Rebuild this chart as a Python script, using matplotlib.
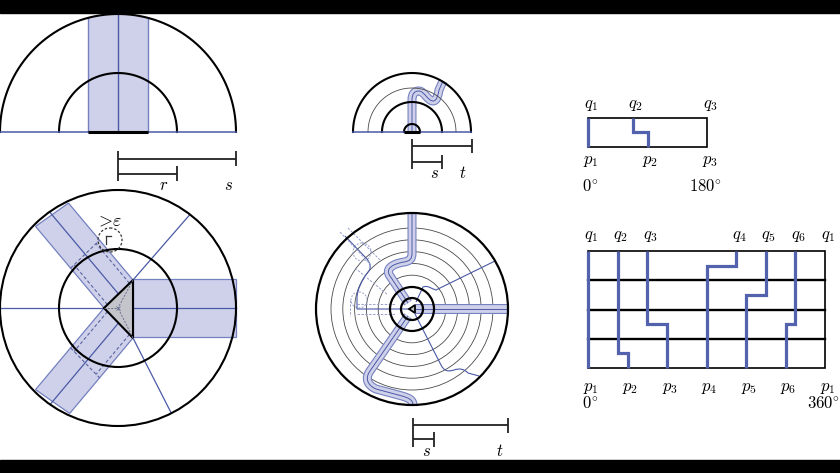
import numpy as np
import matplotlib
matplotlib.use("Agg")
import matplotlib.pyplot as plt
from matplotlib.patches import Polygon, PathPatch, Circle
from matplotlib.path import Path

plt.rcParams['mathtext.fontset'] = 'cm'
plt.rcParams['font.family'] = ['DejaVu Serif']

# ---------------- data (diagram values) ----------------
# panel A: half disc
half_disc_radii = [59, 118]
half_band_halfwidth = 30
# panel B: full disc with triangle and three strips
disc_radii = [59, 118]
tri_vertices = [(-14, 0), (15, -28), (15, 30)]      # relative to disc centre
strip_angles = [130, 230]                            # diagonal strips (deg)
spoke_angles = [49, -63]                             # thin spokes from triangle corners
eps_circle = (-8, -68, 12)
# panel C: small half disc
small_half_radii_thick = [8, 30, 59]
small_half_radii_thin = [44]
# panel D: ringed disc
ring_thick = [11, 22, 96]
ring_thin = [33.8, 45.6, 57.4, 69.2, 81.0]
# panels E/F: unrolled diagrams (degrees)
half_q_deg = [0, 67.5, 180]
half_p_deg = [0, 90, 180]
half_step = [None, 0.5, None]
full_q_deg = [0, 45, 90, 225, 270, 315, 360]
full_p_deg = [0, 60, 120, 180, 240, 300, 360]
full_step = [None, 3.5, 2.5, 0.5, 1.5, 2.5]
full_rows = 4

# ---------------- styles ----------------
PX = 0.72
BLUE = '#5262ad'
THIN = '#4a5aa6'
FILL = '#cfd1ea'
EDGE = '#7480bf'
GRAY = '#4a4a4a'

fig = plt.figure(figsize=(8.4, 4.73), dpi=100)
ax = fig.add_axes([0, 0, 1, 1])
ax.set_xlim(0, 840)
ax.set_ylim(473, 0)
ax.axis('off')

def arc(c, r, a0, a1, **kw):
    t = np.radians(np.linspace(a0, a1, 300))
    ax.plot(c[0] + r * np.cos(t), c[1] - r * np.sin(t), **kw)

def ray_circle(p, d, c, R):
    f = np.array(p) - np.array(c)
    b = f @ d
    return -b + np.sqrt(b * b - (f @ f - R * R))

def seg(p, q, **kw):
    ax.plot([p[0], q[0]], [p[1], q[1]], **kw)

def scale_bar(x0, y_long, x_long, y_short, x_short, tick):
    kw = dict(color='#222222', lw=1.3, solid_capstyle='butt')
    seg((x0, y_long), (x_long, y_long), **kw)
    seg((x0, y_short), (x_short, y_short), **kw)
    seg((x0, y_long - tick), (x0, y_short + tick), **kw)
    seg((x_long, y_long - tick), (x_long, y_long + tick), **kw)
    seg((x_short, y_short - tick), (x_short, y_short + tick), **kw)

def label(x, y, s, size=12, ha='center'):
    ax.text(x, y, s, fontsize=size, ha=ha, va='center')

def stroke_band(verts, codes, width=9):
    path = Path(verts, codes)
    ax.add_patch(PathPatch(path, fill=False, ec=EDGE, lw=width * PX, capstyle='butt', joinstyle='round'))
    ax.add_patch(PathPatch(path, fill=False, ec=FILL, lw=(width - 2.2) * PX, capstyle='butt', joinstyle='round'))
    ax.add_patch(PathPatch(path, fill=False, ec=THIN, lw=0.7, capstyle='butt', joinstyle='round'))

# black bars top and bottom
ax.add_patch(plt.Rectangle((0, 0), 840, 13, color='black', zorder=10))
ax.add_patch(plt.Rectangle((0, 460), 840, 13, color='black', zorder=10))

# ================= panel A =================
cA = (118, 132)
R = half_disc_radii[1]
w = half_band_halfwidth
ang = np.degrees(np.arccos(w / R))
t = np.radians(np.linspace(ang, 180 - ang, 100))
band = [(cA[0] + w, cA[1])] + list(zip(cA[0] + R * np.cos(t), cA[1] - R * np.sin(t))) + [(cA[0] - w, cA[1])]
ax.add_patch(Polygon(band, closed=True, fc=FILL, ec='none'))
for sx in (-w, w):
    h = np.sqrt(R * R - w * w)
    seg((cA[0] + sx, cA[1]), (cA[0] + sx, cA[1] - h), color=EDGE, lw=1.0)
seg((cA[0], cA[1]), (cA[0], cA[1] - R), color=THIN, lw=1.0)
for r in half_disc_radii:
    arc(cA, r, 0, 180, color='black', lw=1.5)
seg((cA[0] - R, cA[1]), (cA[0] + R, cA[1]), color=THIN, lw=1.1)
seg((cA[0] - w, cA[1]), (cA[0] + w, cA[1]), color='black', lw=2.2, solid_capstyle='butt')
scale_bar(118, 159, 236, 174, 177, 7.5)
label(164, 185, r'$r$')
label(229, 185, r'$s$')

# ================= panel B =================
cB = (118, 308)
RB = disc_radii[1]
V = [(cB[0] + dx, cB[1] + dy) for dx, dy in tri_vertices]
P1, P2, P3 = V
ax.add_patch(Polygon([(P2[0], P2[1] - 1), (236, P2[1] - 1), (236, P3[1] - 1), (P3[0], P3[1] - 1)],
                     closed=True, fc=FILL, ec=EDGE, lw=0.9))
for a, Q in zip(strip_angles, (P2, P3)):
    d = np.array([np.cos(np.radians(a)), -np.sin(np.radians(a))])
    t1 = ray_circle(P1, d, cB, RB - 2)
    t2 = ray_circle(Q, d, cB, RB - 2)
    A1 = np.array(P1) + t1 * d
    A2 = np.array(Q) + t2 * d
    ax.add_patch(Polygon([P1, A1, A2, Q], closed=True, fc=FILL, ec=EDGE, lw=0.9))
    M = (np.array(P1) + np.array(Q)) / 2
    tm = ray_circle(M, d, cB, RB)
    seg(M, M + tm * d, color=THIN, lw=0.9)
    q1 = np.array(P1) + 0.12 * (np.array(Q) - np.array(P1))
    q2 = np.array(P1) + 0.88 * (np.array(Q) - np.array(P1))
    L = 52
    e1, e2 = np.array(P1) + L * d, np.array(Q) + L * d
    kwd = dict(color='#5a64a0', lw=0.8, ls=(0, (3, 2)))
    seg(e1, e2, **kwd)
    seg(q1, q1 + L * d, **kwd)
    seg(q2, q2 + L * d, **kwd)
seg((0, cB[1]), (236, cB[1]), color=THIN, lw=0.9)
for a, Q in zip(spoke_angles, (P2, P3)):
    d = np.array([np.cos(np.radians(a)), -np.sin(np.radians(a))])
    tt = ray_circle(Q, d, cB, RB)
    seg(Q, np.array(Q) + tt * d, color=THIN, lw=0.9)
for r in disc_radii:
    ax.add_patch(Circle(cB, r, fill=False, ec='black', lw=1.5, zorder=4))
ax.add_patch(Polygon(V, closed=True, fc='#c3c5cb', ec='black', lw=1.5, zorder=5))
for v in V:
    seg(v, cB, color='#6a6f90', lw=0.7, ls=(0, (2, 1.5)), zorder=6)
ax.plot([cB[0]], [cB[1]], marker='x', ms=2.5, color='#6a6f90', mew=0.6, zorder=6)
ec_ = (cB[0] + eps_circle[0], cB[1] + eps_circle[1])
ax.add_patch(Circle(ec_, eps_circle[2], fill=False, ec='#333333', lw=0.9, ls=(0, (2, 1.5)), zorder=6))
seg((ec_[0] - 4, ec_[1] - 4), (ec_[0] - 4, ec_[1] + 4), color='#333333', lw=0.9, zorder=6)
seg((ec_[0] - 4, ec_[1] - 4), (ec_[0] + 1, ec_[1] - 4), color='#333333', lw=0.9, zorder=6)
label(ec_[0] - 1, ec_[1] - 20, r'$>\!\varepsilon$', size=13)

# ================= panel C =================
cC = (412, 132)
verts = [(412, 132), (412, 100),
         (412, 93), (415, 91), (419, 91),
         (424, 91), (428, 101), (433, 101),
         (437, 101), (438, 95), (439, 90),
         (443, 81)]
codes = [Path.MOVETO, Path.LINETO,
         Path.CURVE4, Path.CURVE4, Path.CURVE4,
         Path.CURVE4, Path.CURVE4, Path.CURVE4,
         Path.CURVE4, Path.CURVE4, Path.CURVE4,
         Path.LINETO]
stroke_band(verts, codes, 9)
for r in small_half_radii_thin:
    arc(cC, r, 0, 180, color=GRAY, lw=0.6)
for r in small_half_radii_thick:
    arc(cC, r, 0, 180, color='black', lw=1.5)
seg((cC[0] - 59, cC[1]), (cC[0] + 59, cC[1]), color=THIN, lw=1.1)
seg((404, 132), (420, 132), color='black', lw=2.2, solid_capstyle='butt')
scale_bar(412, 146, 472, 162, 442, 7)
label(434, 173, r'$s$')
label(463, 173, r'$t$')

# ================= panel D =================
cD = (412, 309)
for r in ring_thin:
    ax.add_patch(Circle(cD, r, fill=False, ec=GRAY, lw=0.6))
kwg = dict(color='#98a0cc', lw=0.7, ls=(0, (2.5, 1.5)))
seg((357, 304), (395, 304), **kwg)
seg((357, 314), (395, 314), **kwg)
seg((350, 300), (350, 316), **kwg)
ax.add_patch(Circle((359, 300), 8, fill=False, ec='#98a0cc', lw=0.7, ls=(0, (2, 1.5))))
ax.add_patch(Circle((362, 252), 9, fill=False, ec='#98a0cc', lw=0.7, ls=(0, (2, 1.5))))
seg((340, 232), (372, 266), **kwg)
seg((348, 228), (380, 260), **kwg)
seg((355, 268), (388, 295), **kwg)
gv = [(cD[0], cD[1]), (357, 309), (357, 298), (357, 290), (362, 280), (368, 272), (372, 268), (370, 262), (366, 258), (345, 236)]
gc = [Path.MOVETO, Path.LINETO, Path.LINETO, Path.CURVE4, Path.CURVE4, Path.CURVE4, Path.CURVE4, Path.CURVE4, Path.CURVE4, Path.LINETO]
ax.add_patch(PathPatch(Path(gv, gc), fill=False, ec=THIN, lw=0.8))
ur = [(4, -7), (11, -22), (16, -24), (20, -20), (24, -19), (83, -48)]
urc = [Path.MOVETO, Path.LINETO, Path.CURVE4, Path.CURVE4, Path.CURVE4, Path.LINETO]
ax.add_patch(PathPatch(Path([(cD[0] + x, cD[1] + y) for x, y in ur], urc), fill=False, ec=THIN, lw=0.8))
lr = [(3, 5), (29, 56), (32, 62), (36, 63), (42, 61), (48, 59), (52, 60), (56, 64), (67, 67)]
lrc = [Path.MOVETO, Path.LINETO, Path.CURVE4, Path.CURVE4, Path.CURVE4, Path.CURVE4, Path.CURVE4, Path.CURVE4, Path.LINETO]
ax.add_patch(PathPatch(Path([(cD[0] + x, cD[1] + y) for x, y in lr], lrc), fill=False, ec=THIN, lw=0.8))
stroke_band([(cD[0] + 3, cD[1]), (cD[0] + 96, cD[1])], [Path.MOVETO, Path.LINETO], 10)
up = [(-4, -6), (-22, -33), (-27, -40), (-20, -45), (-8, -47), (-2, -48), (0, -50), (0, -56), (0, -96)]
upc = [Path.MOVETO, Path.LINETO, Path.CURVE4, Path.CURVE4, Path.CURVE4, Path.CURVE4, Path.CURVE4, Path.CURVE4, Path.LINETO]
stroke_band([(cD[0] + x, cD[1] + y) for x, y in up], upc, 9)
lo = [(-4, 7), (-42, 62), (-47, 69), (-45, 76), (-36, 80), (-10, 87), (-3, 89), (1, 91), (1, 96)]
loc = [Path.MOVETO, Path.LINETO, Path.CURVE4, Path.CURVE4, Path.CURVE4, Path.LINETO, Path.CURVE4, Path.CURVE4, Path.CURVE4]
stroke_band([(cD[0] + x, cD[1] + y) for x, y in lo], loc, 9)
for r in ring_thick:
    ax.add_patch(Circle(cD, r, fill=False, ec='black', lw=1.6, zorder=4))
ax.add_patch(Polygon([(cD[0] - 3, cD[1]), (cD[0] + 3, cD[1] - 4), (cD[0] + 3, cD[1] + 4)],
                     closed=True, fc='#c3c5cb', ec='black', lw=1.3, zorder=5))
scale_bar(413, 425, 508, 439, 434, 7.5)
label(427, 451, r'$s$')
label(500, 451, r'$t$')

# ================= panel E =================
x0E, x1E, yT, yB = 588, 707, 118, 147
def xE(d):
    return x0E + d / 180 * (x1E - x0E)
ax.add_patch(plt.Rectangle((x0E, yT), x1E - x0E, yB - yT, fill=False, ec='black', lw=1.2))
for q, p, s in zip(half_q_deg, half_p_deg, half_step):
    if q == 180:
        continue
    if s is None:
        xs, ys = [xE(q), xE(p)], [yT, yB]
    else:
        ym = yT + s * (yB - yT)
        xs, ys = [xE(q), xE(q), xE(p), xE(p)], [yT, ym, ym, yB]
    ax.plot(xs, ys, color=BLUE, lw=2.3, solid_joinstyle='miter', solid_capstyle='butt', zorder=5)
for i, (q, p) in enumerate(zip(half_q_deg, half_p_deg)):
    label(xE(q) + 3, 104, r'$q_{%d}$' % (i + 1))
    label(xE(p) + 3, 160, r'$p_{%d}$' % (i + 1))
label(xE(0) + 2, 186, r'$0^{\circ}$')
label(xE(180) - 2, 186, r'$180^{\circ}$')

# ================= panel F =================
x0F, x1F, yTF, yBF = 588, 825, 251, 368
def xF(d):
    return x0F + d / 360 * (x1F - x0F)
rh = (yBF - yTF) / full_rows
ax.add_patch(plt.Rectangle((x0F, yTF), x1F - x0F, yBF - yTF, fill=False, ec='black', lw=1.2))
for k in range(1, full_rows):
    seg((x0F, yTF + k * rh), (x1F, yTF + k * rh), color='black', lw=1.7)
for q, p, s in zip(full_q_deg, full_p_deg, full_step):
    if s is None:
        xs, ys = [xF(q), xF(p)], [yTF, yBF]
    else:
        ym = yTF + s * rh
        xs, ys = [xF(q), xF(q), xF(p), xF(p)], [yTF, ym, ym, yBF]
    ax.plot(xs, ys, color=BLUE, lw=2.3, solid_joinstyle='miter', solid_capstyle='butt', zorder=5)
names = [1, 2, 3, 4, 5, 6, 1]
for n, q, p in zip(names, full_q_deg, full_p_deg):
    label(xF(q) + 3, 235, r'$q_{%d}$' % n)
    label(xF(p) + 3, 387, r'$p_{%d}$' % n)
label(xF(0) + 2, 403, r'$0^{\circ}$')
label(xF(360) - 2, 403, r'$360^{\circ}$')

fig.savefig('out.png', dpi=100)
